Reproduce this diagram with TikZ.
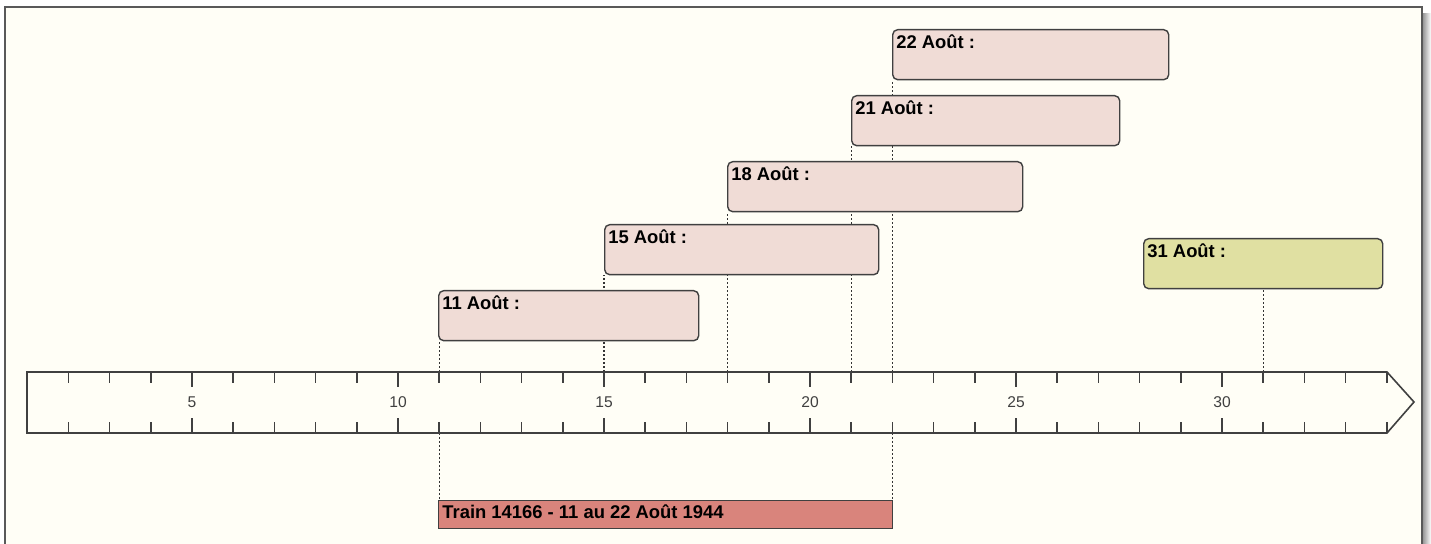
\documentclass[tikz,border=0pt]{standalone}
\usepackage{fontspec}
\setmainfont{Liberation Sans}
\usepackage{tikz}
\usetikzlibrary{positioning}
\definecolor{paper}{HTML}{FFFEF6}
\definecolor{evpink}{HTML}{F0DCD6}
\definecolor{evolive}{HTML}{E0E0A2}
\definecolor{trainred}{HTML}{D9847C}
\pgfdeclarelayer{sheet}
\pgfdeclarelayer{leaders}
\pgfsetlayers{sheet,leaders,main}
\tikzset{
    evbox/.style={rectangle, rounded corners=2.5pt, draw=black!75, line width=0.7pt, fill=evpink, minimum height=25pt, anchor=north west, inner sep=0pt},
    evtext/.style={anchor=north west, inner xsep=2pt, inner ysep=2.6pt, font=\fontsize{9.2}{10}\selectfont\bfseries},
    trainbox/.style={rectangle, draw=black!75, line width=0.7pt, fill=trainred, minimum height=14pt, anchor=north west, inner sep=0pt},
    axisline/.style={draw=black!75, line width=0.8pt},
    dotline/.style={draw=black!80, line width=0.7pt, dash pattern=on 1pt off 1pt},
    daylabel/.style={text=black!75, font=\fontsize{7.8}{9}\selectfont},
}

\begin{document}
\begin{tikzpicture}[x=0.5pt, y=-0.5pt]
    \useasboundingbox (0,0) rectangle (1431,544);
    \clip (0,0) rectangle (1431,544);

    % Sheet with its shadow
    \begin{pgfonlayer}{sheet}
        \shade[left color=black!45, right color=white] (1422,14) rectangle (1431,560);
        \filldraw[fill=paper, draw=black!65, line width=1pt] (5,7) rectangle (1422,560);
    \end{pgfonlayer}

    % Axis coordinates, one per event day
    \foreach \d in {11,15,18,21,22,31}
        \coordinate (d\d) at (\d*41.2-14, 372);
    \coordinate (b11) at (11*41.2-14, 433);
    \coordinate (b22) at (22*41.2-14, 433);

    % Event boxes
    \node[evbox, minimum width=138pt] (e22) at (892,29) {};
    \node[evtext] (t22) at (e22.north west) {22 Août :};
    \node[evbox, minimum width=134pt] (e21) at (851,95) {};
    \node[evtext] (t21) at (e21.north west) {21 Août :};
    \node[evbox, minimum width=147.5pt] (e18) at (727,161) {};
    \node[evtext] (t18) at (e18.north west) {18 Août :};
    \node[evbox, minimum width=137pt] (e15) at (604,224) {};
    \node[evtext] (t15) at (e15.north west) {15 Août :};
    \node[evbox, minimum width=130pt] (e11) at (438,290) {};
    \node[evtext] (t11) at (e11.north west) {11 Août :};
    \node[evbox, fill=evolive, minimum width=119.5pt] (e31) at (1143,238) {};
    \node[evtext] (t31) at (e31.north west) {31 Août :};

    % Train period
    \node[trainbox, minimum width=227pt] (train) at (438,500) {};
    \node[evtext, inner ysep=2.2pt] (ttrain) at (train.north west) {Train 14166 - 11 au 22 Août 1944};

    % Dotted leaders, kept behind the boxes
    \begin{pgfonlayer}{leaders}
        \foreach \d in {11,15,18,21,22,31}
            \draw[dotline] (d\d) -- (d\d |- e\d.south);
        \draw[dotline] (b11) -- (b11 |- train.north);
        \draw[dotline] (b22) -- (b22 |- train.north);
    \end{pgfonlayer}

    % Axis
    \draw[axisline, fill=paper] (27,372) -- (1387,372) -- (1414,402) -- (1387,433) -- (27,433) -- cycle;
    \draw[axisline, line width=1.3pt] (27,372) -- (27,433);
    \foreach \d in {2,...,34} {
        \draw[axisline] (\d*41.2-14, 372) -- ++(0,11);
        \draw[axisline] (\d*41.2-14, 433) -- ++(0,-11);
    }
    \foreach \d in {5,10,...,30} {
        \draw[axisline] (\d*41.2-14, 372) -- ++(0,15);
        \draw[axisline] (\d*41.2-14, 433) -- ++(0,-15);
        \node[daylabel] (l\d) at (\d*41.2-14, 402) {\d};
    }
\end{tikzpicture}
\end{document}
